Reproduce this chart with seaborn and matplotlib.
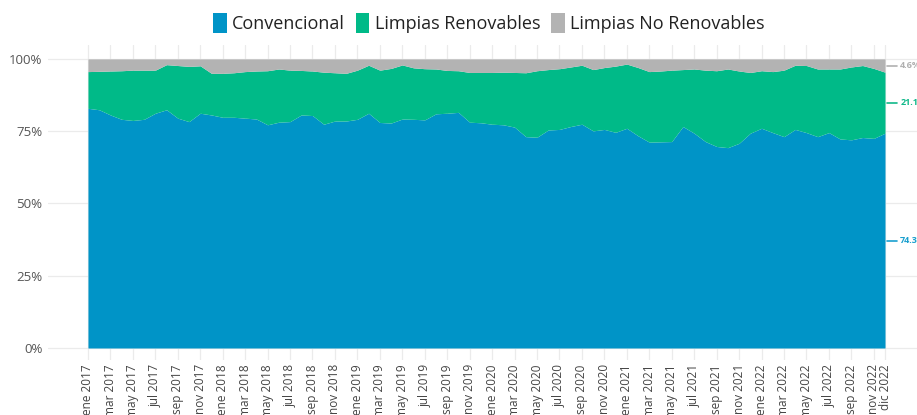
import matplotlib
matplotlib.use("Agg")
import matplotlib.pyplot as plt
from matplotlib.patches import Patch
import seaborn as sns

# monthly shares (%) ene 2017 .. dic 2022
meses = ["ene", "feb", "mar", "abr", "may", "jun", "jul", "ago", "sep", "oct", "nov", "dic"]
anios = [2017, 2018, 2019, 2020, 2021, 2022]

convencional = [
    82.9, 82.4, 80.6, 79.1, 78.7, 79.1, 81.2, 82.4, 79.5, 78.3, 81.2, 80.6,
    79.8, 79.8, 79.5, 79.2, 77.2, 78.1, 78.3, 80.6, 80.4, 77.4, 78.5, 78.5,
    79.1, 81.2, 78.0, 77.8, 79.2, 79.1, 78.9, 81.0, 81.2, 81.5, 78.1, 77.9,
    77.4, 77.2, 76.4, 73.1, 72.9, 75.4, 75.6, 76.6, 77.4, 75.1, 75.6, 74.6,
    76.0, 73.4, 71.2, 71.3, 71.4, 76.6, 74.3, 71.4, 69.7, 69.3, 70.8, 74.3,
    76.0, 74.5, 73.1, 75.6, 74.5, 73.1, 74.5, 72.3, 72.0, 72.8, 72.5, 74.3,
]
renovables = [
    12.7, 13.3, 15.2, 16.8, 17.4, 17.0, 14.9, 15.6, 18.2, 19.1, 16.4, 14.4,
    15.2, 15.4, 16.1, 16.6, 18.7, 18.4, 17.8, 15.4, 15.4, 18.0, 16.7, 16.5,
    17.0, 16.6, 18.1, 18.9, 18.7, 17.8, 17.7, 15.5, 14.8, 14.4, 17.2, 17.4,
    17.9, 18.2, 18.9, 22.1, 23.0, 20.9, 21.0, 20.6, 20.4, 21.2, 21.4, 22.9,
    22.2, 23.6, 24.4, 24.5, 24.7, 19.7, 22.2, 24.7, 26.2, 27.2, 25.0, 21.0,
    19.9, 21.1, 23.0, 22.2, 23.2, 23.4, 22.0, 24.2, 25.2, 24.9, 24.2, 21.1,
]
no_renovables = [
    4.4, 4.3, 4.2, 4.1, 3.9, 3.9, 3.9, 2.0, 2.3, 2.6, 2.4, 5.0,
    5.0, 4.8, 4.4, 4.2, 4.1, 3.5, 3.9, 4.0, 4.2, 4.6, 4.8, 5.0,
    3.9, 2.2, 3.9, 3.3, 2.1, 3.1, 3.4, 3.5, 4.0, 4.1, 4.7, 4.7,
    4.7, 4.6, 4.7, 4.8, 4.1, 3.7, 3.4, 2.8, 2.2, 3.7, 3.0, 2.5,
    1.8, 3.0, 4.4, 4.2, 3.9, 3.7, 3.5, 3.9, 4.1, 3.5, 4.2, 4.7,
    4.1, 4.4, 3.9, 2.2, 2.3, 3.5, 3.5, 3.5, 2.8, 2.3, 3.3, 4.6,
]
series = ["Convencional", "Limpias Renovables", "Limpias No Renovables"]
colores = ["#0094c7", "#00ba88", "#b3b3b3"]

etiquetas = [f"{m} {a}" for a in anios for m in meses]
x = list(range(len(etiquetas)))

sns.set_theme(style="white")
plt.rcParams["font.family"] = ["Open Sans", "DejaVu Sans"]

fig = plt.figure(figsize=(9.17, 4.15), dpi=100)
ax = fig.add_axes([48 / 917, (415 - 360) / 415, 1 - 48 / 917, (360 - 45) / 415])

ax.stackplot(x, convencional, renovables, no_renovables, colors=colores,
             linewidth=0, zorder=2)

ax.set_xlim(-3.56, 73.85)
ax.set_ylim(-4.15, 104.8)

ticks = list(range(0, 71, 2)) + [71]
ax.set_xticks(ticks)
ax.set_xticklabels([etiquetas[i] for i in ticks], rotation=90, fontsize=8.5,
                   color="#444444", va="top")
ax.set_yticks([0, 25, 50, 75, 100])
ax.set_yticklabels(["0%", "25%", "50%", "75%", "100%"], fontsize=9.5, color="#555555")
ax.tick_params(axis="both", length=0, pad=4)
ax.tick_params(axis="x", pad=3)

ax.grid(True, color="#ebebeb", linewidth=0.9, zorder=0)
ax.set_axisbelow(True)
for s in ax.spines.values():
    s.set_visible(False)

# end-of-series labels (cut by the right edge, as in the original)
ult = len(x) - 1
medios = [convencional[ult] / 2,
          convencional[ult] + renovables[ult] / 2,
          convencional[ult] + renovables[ult] + no_renovables[ult] / 2]
valores = [convencional[ult], renovables[ult], no_renovables[ult]]
tcol = ["#1aa0cf", "#11b98a", "#b0b0b0"]
for yv, v, c in zip(medios, valores, tcol):
    ax.plot([ult + 0.15, ult + 1.05], [yv, yv], color=c, linewidth=1.2,
            clip_on=False, zorder=3)
    ax.text(ult + 1.35, yv, f"{v:.1f}%", color=c, fontsize=6.5, fontweight="bold",
            va="center", ha="left", clip_on=False)

handles = [Patch(facecolor=c, edgecolor="none") for c in colores]
fig.legend(handles, series, loc="center", bbox_to_anchor=(0.533, 0.945), ncol=3,
           frameon=False, fontsize=13, handlelength=0.75, handleheight=1.35,
           handletextpad=0.3, columnspacing=0.6, labelcolor="#222222")

fig.savefig("out.png", dpi=100)
